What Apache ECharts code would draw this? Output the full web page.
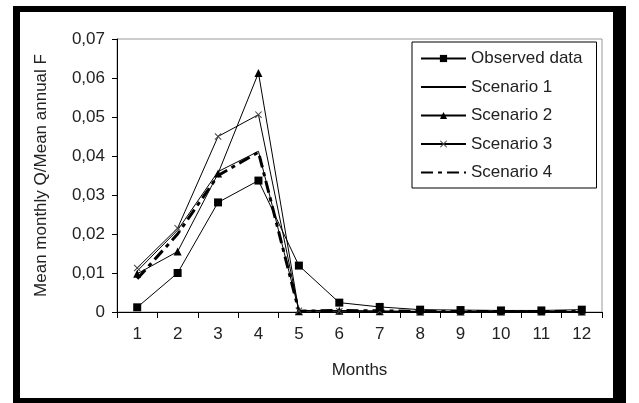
<!DOCTYPE html>
<html><head><meta charset="utf-8">
<script src="https://cdn.jsdelivr.net/npm/echarts@6/dist/echarts.min.js"></script>
<style>
html,body{margin:0;padding:0;background:#fff;}
#c{position:absolute;left:0;top:0;width:639px;height:403px;}
#frame{position:absolute;left:13px;top:6px;width:593px;height:386px;border-style:solid;border-color:#000;border-width:6px 13px 5px 7px;pointer-events:none;}
</style></head>
<body>
<div id="c"></div>
<div id="frame"></div>
<script>
const months = ['1','2','3','4','5','6','7','8','9','10','11','12'];
const observed  = [0.0012, 0.0100, 0.0281, 0.0337, 0.0119, 0.0024, 0.0013, 0.0006, 0.0005, 0.0004, 0.0004, 0.0006];
const scenario1 = [0.0105, 0.0210, 0.0360, 0.0412, 0.0004, 0.0004, 0.0002, 0.0002, 0.0001, 0.0001, 0.0001, 0.0001];
const scenario2 = [0.0098, 0.0155, 0.0355, 0.0613, 0.0002, 0.0003, 0.0002, 0.0001, 0.0001, 0.0001, 0.0001, 0.0001];
const scenario3 = [0.0113, 0.0215, 0.0450, 0.0506, 0.0003, 0.0002, 0.0002, 0.0001, 0.0001, 0.0001, 0.0001, 0.0001];
const scenario4 = [0.0085, 0.0200, 0.0350, 0.0410, 0.0002, 0.0004, 0.0003, 0.0002, 0.0001, 0.0001, 0.0001, 0.0001];
const yTicks = [0, 0.01, 0.02, 0.03, 0.04, 0.05, 0.06, 0.07];
const names = ['Observed data','Scenario 1','Scenario 2','Scenario 3','Scenario 4'];

const FONT = 'Liberation Sans, Arial, sans-serif';
const xMark = 'path://M0,1L1,0L5,4L9,0L10,1L6,5L10,9L9,10L5,6L1,10L0,9L4,5Z';

const chart = echarts.init(document.getElementById('c'), null, {renderer:'canvas'});
chart.setOption({
  animation:false,
  backgroundColor:'#fff',
  grid:{left:117, right:37, top:39, bottom:91, show:true, borderColor:'#999', borderWidth:1},
  xAxis:{
    type:'category', data:months, boundaryGap:true,
    name:'Months', nameLocation:'middle', nameGap:50,
    nameTextStyle:{fontFamily:FONT, fontSize:17, color:'#222'},
    axisLine:{lineStyle:{color:'#000', width:1}},
    axisTick:{show:true, length:6, alignWithLabel:false, lineStyle:{color:'#000'}},
    axisLabel:{fontFamily:FONT, fontSize:17, color:'#222', margin:14},
    splitLine:{show:false}
  },
  yAxis:{
    type:'value', min:0, max:0.07, interval:0.01,
    name:'Mean monthly Q/Mean annual F', nameLocation:'middle', nameGap:67,
    nameTextStyle:{fontFamily:FONT, fontSize:17, color:'#222'},
    axisLine:{show:true, lineStyle:{color:'#000', width:1}},
    axisTick:{show:true, length:5, lineStyle:{color:'#000'}},
    axisLabel:{fontFamily:FONT, fontSize:17, color:'#222', margin:12,
      formatter:function(v){ return v===0 ? '0' : v.toFixed(2).replace('.', ','); }},
    splitLine:{show:false}
  },
  legend:{
    orient:'vertical', left:412, top:42,
    width:170,
    backgroundColor:'#fff',
    borderColor:'#000', borderWidth:1,
    padding:[8, 14, 7, 8],
    itemWidth:45, itemHeight:9, itemGap:11.5,
    textStyle:{fontFamily:FONT, fontSize:17, color:'#222'},
    data:[
      {name:names[0]},
      {name:names[1], itemStyle:{opacity:0}},
      {name:names[2]},
      {name:names[3]},
      {name:names[4], itemStyle:{opacity:0}}
    ]
  },
  series:[
    {name:names[0], type:'line', data:observed, symbol:'rect', symbolSize:8,
      lineStyle:{color:'#000', width:1}, itemStyle:{color:'#000'}, z:5},
    {name:names[1], type:'line', data:scenario1, symbol:'none', showSymbol:false,
      lineStyle:{color:'#000', width:1}, itemStyle:{color:'#000'}},
    {name:names[2], type:'line', data:scenario2, symbol:'triangle', symbolSize:8,
      lineStyle:{color:'#000', width:1}, itemStyle:{color:'#000'}},
    {name:names[3], type:'line', data:scenario3, symbol:xMark, symbolSize:7,
      lineStyle:{color:'#000', width:1}, itemStyle:{color:'#444'}},
    {name:names[4], type:'line', data:scenario4, symbol:'none', showSymbol:false,
      lineStyle:{color:'#000', width:3, type:[12,5,4,5]}, itemStyle:{color:'#000'}}
  ]
});
</script>
</body></html>
